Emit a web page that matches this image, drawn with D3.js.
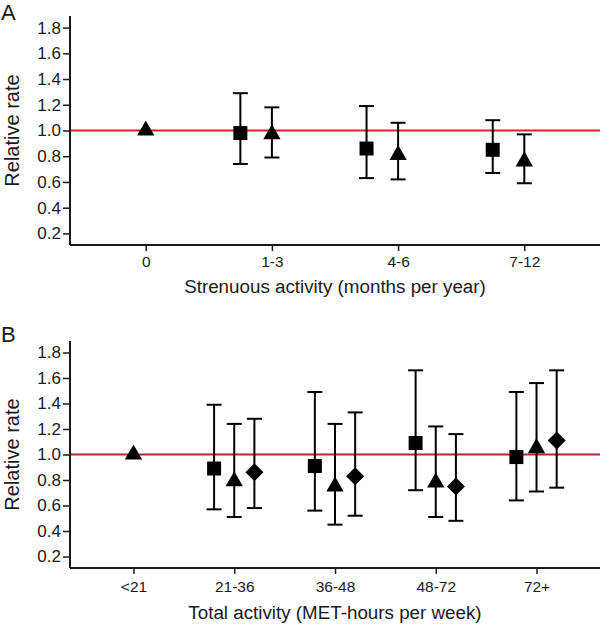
<!DOCTYPE html>
<html>
<head>
<meta charset="utf-8">
<script src="https://cdn.jsdelivr.net/npm/d3@7"></script>
<style>
  body { margin: 0; background: #fff; }
  svg text { font-family: "Liberation Sans", Arial, Helvetica, sans-serif; fill: #1a1a1a; }
</style>
</head>
<body>
<svg id="chart" width="601" height="627"></svg>
<script>
// ---------- Data ----------
const yTicks = [0.2, 0.4, 0.6, 0.8, 1.0, 1.2, 1.4, 1.6, 1.8];

// Panel A: strenuous activity
const catsA = ["0", "1-3", "4-6", "7-12"];
const sqA = [null, 0.98, 0.86, 0.85];
const sqALo = [null, 0.74, 0.63, 0.67];
const sqAHi = [null, 1.29, 1.19, 1.08];
const triA = [1.0, 0.97, 0.81, 0.76];
const triALo = [null, 0.79, 0.62, 0.59];
const triAHi = [null, 1.18, 1.06, 0.97];

// Panel B: total activity
const catsB = ["<21", "21-36", "36-48", "48-72", "72+"];
const sqB = [null, 0.89, 0.91, 1.09, 0.98];
const sqBLo = [null, 0.57, 0.56, 0.72, 0.64];
const sqBHi = [null, 1.39, 1.49, 1.66, 1.49];
const triB = [1.0, 0.79, 0.75, 0.78, 1.05];
const triBLo = [null, 0.51, 0.45, 0.51, 0.71];
const triBHi = [null, 1.24, 1.24, 1.22, 1.56];
const diaB = [null, 0.86, 0.83, 0.75, 1.11];
const diaBLo = [null, 0.58, 0.52, 0.48, 0.74];
const diaBHi = [null, 1.28, 1.33, 1.16, 1.66];

const svg = d3.select("#chart");

function panel(opt) {
  const g = svg.append("g");
  const x = d3.scaleLinear().domain(opt.xDomain).range([70, 600]);
  const y = d3.scaleLinear().domain([0.11, 1.89]).range([opt.bottom, opt.top]);

  // reference line at 1.0
  g.append("line")
    .attr("x1", x.range()[0]).attr("x2", x.range()[1])
    .attr("y1", y(1)).attr("y2", y(1))
    .attr("stroke", opt.refColor).attr("stroke-width", 1.8);

  // y axis
  const ya = g.append("g").attr("transform", "translate(70,0)")
    .call(d3.axisLeft(y).tickValues(yTicks).tickFormat(d3.format(".1f")).tickSize(7).tickPadding(2));
  ya.select(".domain").attr("stroke", "#1a1a1a").attr("stroke-width", 2).attr("d", `M0,${opt.top}V${opt.bottom}`);
  ya.selectAll(".tick line").attr("stroke", "#1a1a1a").attr("stroke-width", 1.5);
  ya.selectAll(".tick text").style("font-size", "17px");

  // x axis
  const xa = g.append("g").attr("transform", `translate(0,${opt.bottom})`)
    .call(d3.axisBottom(x).tickValues(d3.range(opt.cats.length)).tickFormat(i => opt.cats[i]).tickSize(6).tickPadding(opt.xPad));
  xa.select(".domain").attr("stroke", "#1a1a1a").attr("stroke-width", 2).attr("d", `M70,0H600`);
  xa.selectAll(".tick line").attr("stroke", "#1a1a1a").attr("stroke-width", 1.5);
  xa.selectAll(".tick text").style("font-size", "15.5px");

  // labels
  g.append("text").attr("x", 1).attr("y", opt.letterY).style("font-size", "22px").text(opt.letter);
  g.append("text")
    .attr("transform", `translate(18.5,${(opt.top + opt.bottom) / 2}) rotate(-90)`)
    .attr("text-anchor", "middle").style("font-size", "20px").text("Relative rate");
  g.append("text").attr("x", 335).attr("y", opt.bottom + opt.titleOff)
    .attr("text-anchor", "middle").style("font-size", "18.8px").text(opt.xTitle);

  // series
  opt.series.forEach(s => {
    s.val.forEach((v, i) => {
      if (v == null) return;
      const cx = x(i + s.off);
      if (s.lo[i] != null) {
        const eb = g.append("g").attr("stroke", "#000").attr("stroke-width", 2);
        eb.append("line").attr("x1", cx).attr("x2", cx).attr("y1", y(s.lo[i])).attr("y2", y(s.hi[i]));
        [s.lo[i], s.hi[i]].forEach(e => {
          eb.append("line").attr("x1", cx - 7.5).attr("x2", cx + 7.5).attr("y1", y(e)).attr("y2", y(e));
        });
      }
      let path;
      if (s.shape === "square") path = d3.symbol(d3.symbolSquare, 196)();
      else if (s.shape === "triangle") path = d3.symbol(d3.symbolTriangle, 130)();
      else path = "M0,-9L9,0L0,9L-9,0Z";
      g.append("path").attr("d", path).attr("transform", `translate(${cx},${y(v)})`).attr("fill", "#000");
    });
  });
}

panel({
  letter: "A", letterY: 19.5, top: 16, bottom: 245, xDomain: [-0.6, 3.6], cats: catsA,
  xPad: 5, titleOff: 47.5,
  refColor: "#d42424", xTitle: "Strenuous activity (months per year)",
  series: [
    { shape: "square", off: -0.25, val: sqA, lo: sqALo, hi: sqAHi },
    { shape: "triangle", off: 0, val: triA, lo: triALo, hi: triAHi }
  ]
});

panel({
  letter: "B", letterY: 341.5, top: 341, bottom: 568, xDomain: [-0.63, 4.63], cats: catsB,
  xPad: 7, titleOff: 51,
  refColor: "#b02a2a", xTitle: "Total activity (MET-hours per week)",
  series: [
    { shape: "square", off: -0.2, val: sqB, lo: sqBLo, hi: sqBHi },
    { shape: "triangle", off: 0, val: triB, lo: triBLo, hi: triBHi },
    { shape: "diamond", off: 0.2, val: diaB, lo: diaBLo, hi: diaBHi }
  ]
});
</script>
</body>
</html>
